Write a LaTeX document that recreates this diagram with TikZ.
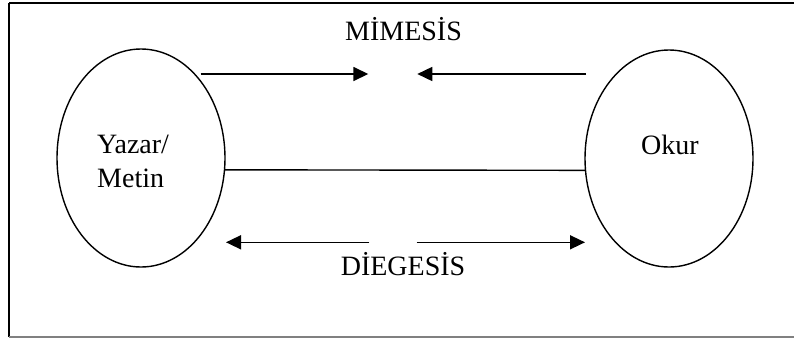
\documentclass[tikz,border=0pt]{standalone}
\usepackage{fontspec}
\setmainfont{Liberation Serif}
\usetikzlibrary{shapes.geometric,arrows.meta}
\begin{document}
\begin{tikzpicture}[x=1pt,y=-1pt,
  oval/.style={draw,ellipse,line width=1.4pt,inner sep=0pt},
  lbl/.style={inner sep=0pt,font=\fontsize{28}{34}\selectfont},
  arr/.style={line width=1.6pt,-{Triangle[length=15pt,width=14pt]}},
  frame/.style={line width=2pt}]
\useasboundingbox (0,0) rectangle (794,338);
% frame
\draw[frame] (9,2.5) -- (794,2.5);
\draw[frame] (9,2.5) -- (9,337);
\draw[frame,gray] (9,337) -- (794,337);
% ellipses
\node[oval,minimum width=168pt,minimum height=218pt] (L) at (141,158) {};
\node[oval,minimum width=168pt,minimum height=217pt] (R) at (669,158.5) {};
% labels
\node[lbl,anchor=base west] (t1) at (97,153) {Yazar/};
\node[lbl,anchor=base west] (t2) at (97,187) {Metin};
\node[lbl,anchor=base] (t3) at (670,154) {Okur};
\node[lbl,anchor=base] (mim) at (403.5,40) {MİMESİS};
\node[lbl,anchor=base] (dieg) at (403,275) {DİEGESİS};
% arrow end points
\coordinate (a1s) at (200.7,74);
\coordinate (a1e) at (368.3,74);
\coordinate (a2s) at (586,74);
\coordinate (a2e) at (417.3,74);
\coordinate (b1s) at (369.3,242.3);
\coordinate (b1e) at (226,242.3);
\coordinate (b2s) at (416.7,242.3);
\coordinate (b2e) at (585,242.3);
% connectors
\draw[arr] (a1s) -- (a1e);
\draw[arr] (a2s) -- (a2e);
\draw[arr] (b1s) -- (b1e);
\draw[arr] (b2s) -- (b2e);
\draw[line width=1.4pt] (L.-8.66) -- (R.188.3);
\end{tikzpicture}
\end{document}
